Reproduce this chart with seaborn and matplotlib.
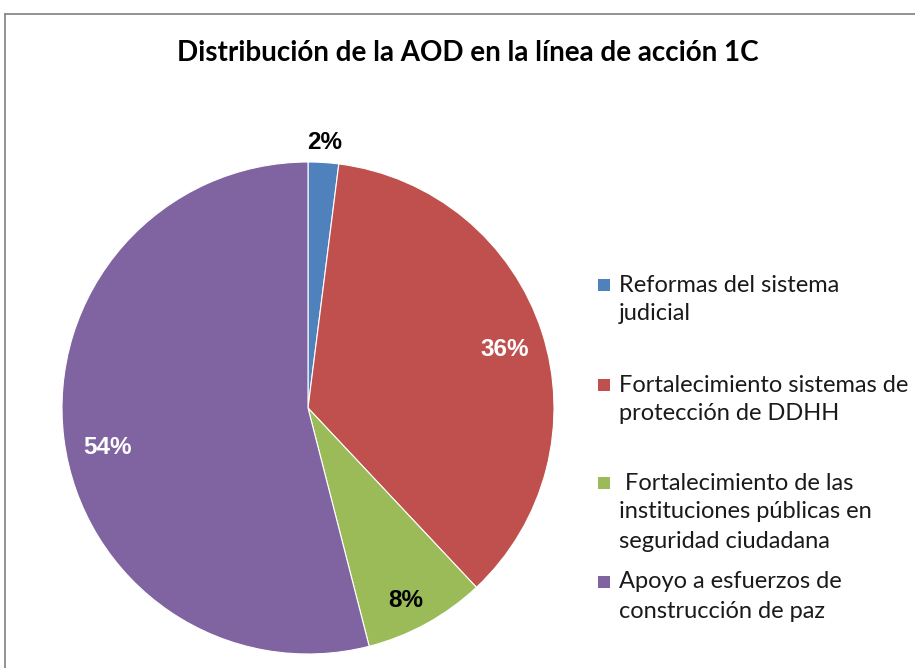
import matplotlib

matplotlib.use("Agg")
import matplotlib.pyplot as plt
import numpy as np
import seaborn as sns
from matplotlib.lines import Line2D
from matplotlib.patches import Rectangle

# data
categories = [
    "Reformas del sistema\njudicial",
    "Fortalecimiento sistemas de\nprotección de DDHH",
    " Fortalecimiento de las\ninstituciones públicas en\nseguridad ciudadana",
    "Apoyo a esfuerzos de\nconstrucción de paz",
]
shares = [2, 36, 8, 54]
colors = ["#4F81BD", "#C0504D", "#9BBB59", "#8064A2"]
title = "Distribución de la AOD en la línea de acción 1C"

# label styling / layout
label_colors = ["black", "white", "black", "white"]
label_radius = [1.08, 0.834, 0.876, 0.832]
label_angle_shift = [0, -1.3, -1.8, 3.8]
legend_first_line_px = [285, 385, 483, 582]
line_step_px = 29

W, H = 915, 668

sns.set_theme(style="white")
plt.rcParams["font.family"] = ["Lato", "DejaVu Sans"]

fig = plt.figure(figsize=(W / 100, H / 100), dpi=100)
fig.patch.set_facecolor("white")

# frame of the chart area (only left and top edges are visible)
fig.add_artist(Line2D([5 / W, 5 / W], [0, 1 - 14 / H], color="#7f7f7f", linewidth=1.2))
fig.add_artist(Line2D([5 / W, 1], [1 - 14 / H, 1 - 14 / H], color="#7f7f7f", linewidth=1.2))

ax = fig.add_axes([62 / W, 14 / H, 492 / W, 492 / H])
wedges, _ = ax.pie(
    shares,
    colors=colors,
    startangle=90,
    counterclock=False,
    wedgeprops=dict(edgecolor="white", linewidth=0.8),
)
ax.set_xlim(-1, 1)
ax.set_ylim(-1, 1)
ax.set_aspect("equal")
ax.axis("off")

for wedge, value, tcolor, r, shift in zip(wedges, shares, label_colors,
                                          label_radius, label_angle_shift):
    mid = np.deg2rad((wedge.theta1 + wedge.theta2) / 2 + shift)
    ax.text(
        r * np.cos(mid),
        r * np.sin(mid),
        f"{value}%",
        ha="center",
        va="center",
        color=tcolor,
        fontsize=17.5,
        fontweight="bold",
        family=["Liberation Sans", "DejaVu Sans"],
        clip_on=False,
    )

fig.text(468 / W, 1 - 53 / H, title, ha="center", va="center",
         fontsize=20, fontweight="bold", color="black")

# legend, laid out like the original (uneven gaps between entries)
sq = 12
for label, color, y0 in zip(categories, colors, legend_first_line_px):
    fig.add_artist(Rectangle((598 / W, 1 - (y0 + sq / 2) / H), sq / W, sq / H,
                             facecolor=color, edgecolor="none"))
    for i, line in enumerate(label.split("\n")):
        fig.text(619 / W, 1 - (y0 + i * line_step_px) / H, line,
                 ha="left", va="center", fontsize=17, color="#1a1a1a")

fig.savefig("out.png", dpi=100, facecolor="white")
